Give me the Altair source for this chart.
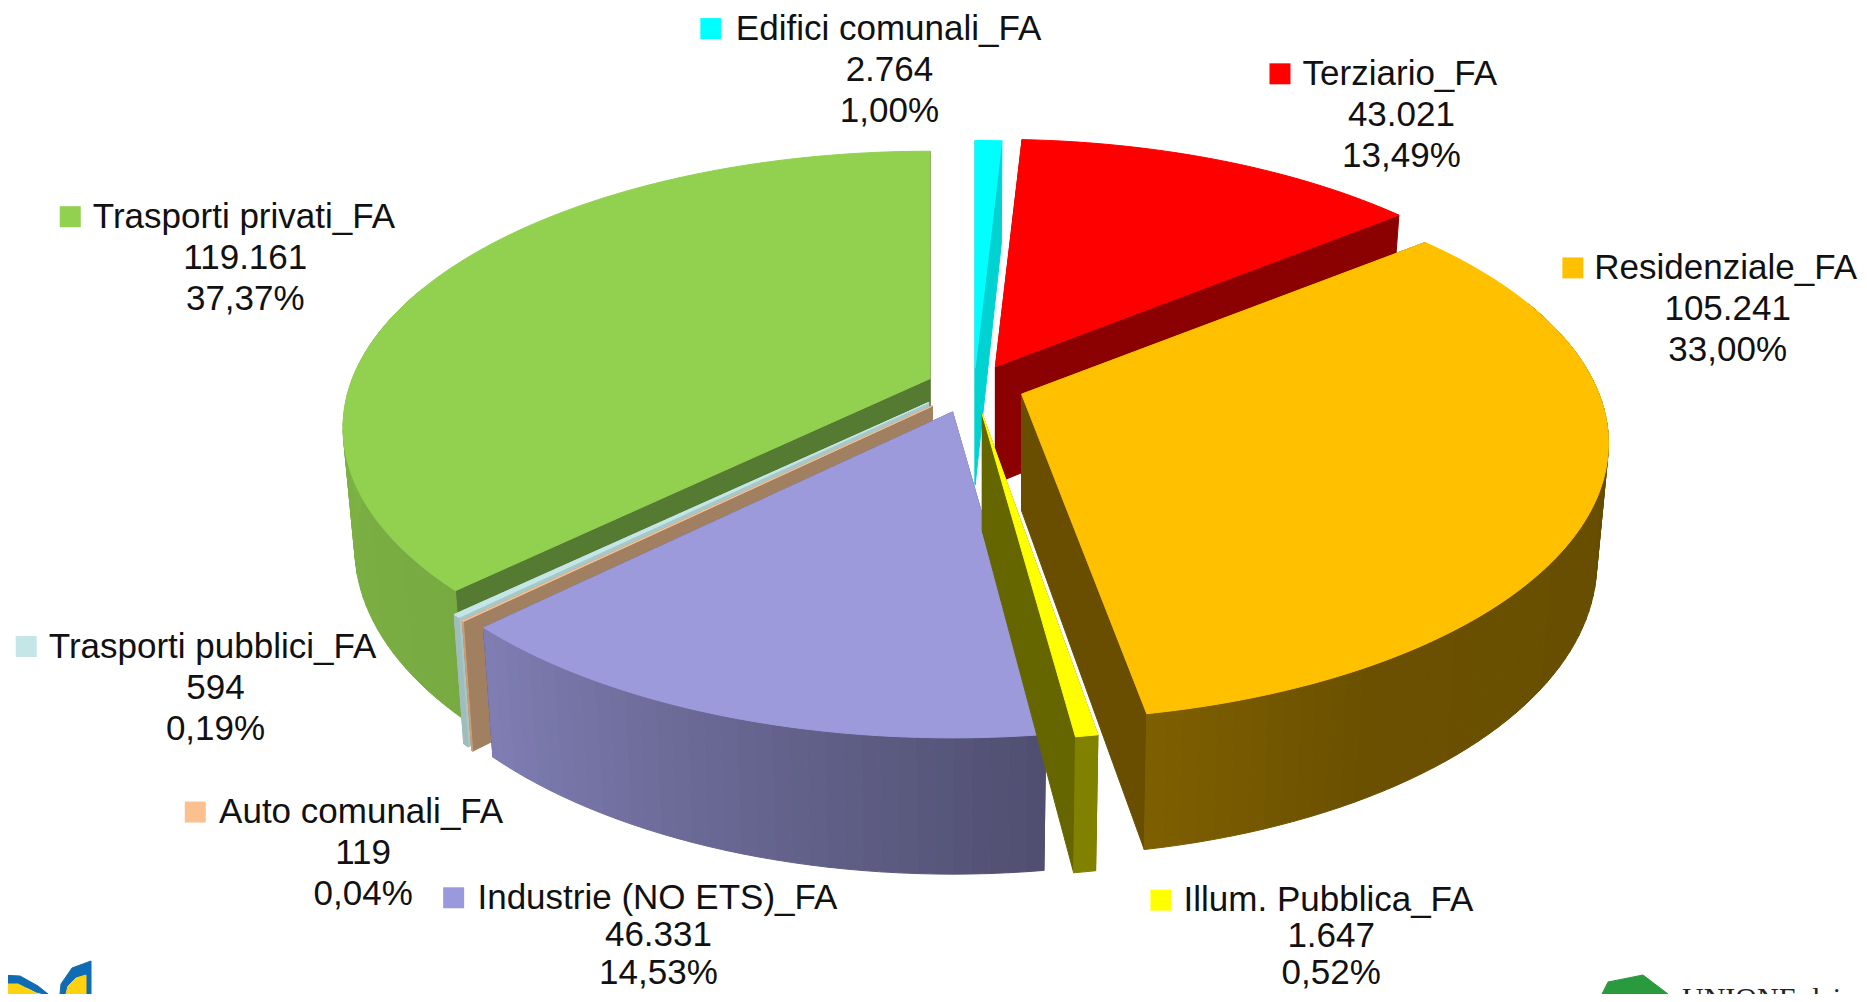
import math
import altair as alt

# ---- data ----
categories = ["Edifici comunali_FA", "Terziario_FA", "Residenziale_FA", "Illum. Pubblica_FA",
              "Industrie (NO ETS)_FA", "Auto comunali_FA", "Trasporti pubblici_FA", "Trasporti privati_FA"]
values = [2764, 43021, 105241, 1647, 46331, 119, 594, 119161]
value_labels = ["2.764", "43.021", "105.241", "1.647", "46.331", "119", "594", "119.161"]
pct_labels = ["1,00%", "13,49%", "33,00%", "0,52%", "14,53%", "0,04%", "0,19%", "37,37%"]
top_colors = ["#00FFFF", "#FF0000", "#FFC000", "#FFFF00", "#9C9ADB", "#FAC090", "#C4E6E6", "#92D050"]
radial_colors = ["#00D2D2", "#8B0000", "#6A4E00", "#666600", "#4B4B70", "#A08060", "#A8C8C8", "#557A32"]
legend_colors = ["#00FFFF", "#FF0000", "#FFC000", "#FFFF00", "#9999DD", "#FAC090", "#C4E6E6", "#92D050"]

# ---- layout, in the picture's 1568-wide coordinates ----
S = 1867 / 1568
apexes = [(819, 309), (836, 308), (858, 331), (825, 348), (800, 346), (783, 341), (780, 338), (781, 318)]
view_turns = [(0, 0), (0, -.7), (-.7, -.8), (0, 0), (0, .6), (.6, .6), (.6, .6), (.6, 0)]
paint_order = [0, 1, 7, 6, 5, 2, 4, 3]
swatches = [(597, 24), (1075, 62), (1321, 225), (975, 756), (381, 754), (164, 682), (22, 543), (59, 182)]
name_lefts = [618, 1094, 1339, 994, 401, 184, 41, 78]
centers = [747, 1177, 1451, 1118, 553, 305, 181, 206]
line_gaps = [34.5, 34.5, 34.5, 30.5, 31.5, 34.5, 34.5, 34.5]
R_X, R_Y, K = 485, 225, 0.178
DROP, BX, BY = 98, 0.98, 1.06
FONT_SIZE = 35


def px(x, y):
    return [x * S - 8, y * S - 8]


def rim(apex, deg, bottom=False):
    t = math.radians(deg)
    w = 1 + K * math.cos(t)
    dx, dy = R_X * math.sin(t) / w, -R_Y * math.cos(t) / w
    if bottom:
        return px(apex[0] + BX * dx, apex[1] + DROP + BY * dy)
    return px(apex[0] + dx, apex[1] + dy)


def hex_color(c, f):
    r, g, b = [int(c[i:i + 2], 16) for i in (1, 3, 5)]
    return "#%02x%02x%02x" % (int(r * f), int(g * f), int(b * f))


def shade(deg):
    stops = [(90, .40), (150, .42), (170, .50), (225, .82), (270, .86), (360, .86)]
    for (a, fa), (b, fb) in zip(stops, stops[1:]):
        if deg <= b:
            return fa + (fb - fa) * (max(deg, a) - a) / (b - a)
    return .86


def feature(points, color):
    ring = [list(p) for p in points] + [list(points[0])]
    return {"type": "Feature", "properties": {"color": color},
            "geometry": {"type": "Polygon", "coordinates": [ring]}}


total = sum(values)
spans, run = [], 0.0
for i, v in enumerate(values):
    spans.append((run * 360 / total + view_turns[i][0], (run + v) * 360 / total + view_turns[i][1]))
    run += v

features = []
for i in paint_order:
    a0, a1 = spans[i]
    ap = apexes[i]
    top_ap, bot_ap = px(*ap), px(ap[0], ap[1] + DROP)
    for a in (a0, a1):
        features.append(feature([top_ap, rim(ap, a), rim(ap, a, True), bot_ap], radial_colors[i]))
    n = max(1, int((a1 - a0) / 1.5))
    steps = [a0 + (a1 - a0) * k / n for k in range(n + 1)]
    for s0, s1 in zip(steps, steps[1:]):
        if math.cos(math.radians((s0 + s1) / 2)) < 0.35:
            features.append(feature([rim(ap, s0), rim(ap, s1), rim(ap, s1, True), rim(ap, s0, True)],
                                    hex_color(top_colors[i], shade((s0 + s1) / 2))))
    features.append(feature([top_ap] + [rim(ap, s) for s in steps], top_colors[i]))

# small parts of the two logos cut by the bottom of the picture (full-size coordinates)
logo_parts = [
    ([(-8, 967), (12, 968), (30, 978), (40, 986), (36, 986), (28, 984), (20, 980), (-8, 976)], "#0F6CB4"),
    ([(-8, 976), (10, 976), (26, 984), (30, 986), (-8, 986)], "#FFD20F"),
    ([(83, 953), (83, 986), (52, 986), (53, 976), (64, 960)], "#0F6CB4"),
    ([(78, 967), (78, 986), (58, 986), (60, 978), (68, 970)], "#FFD20F"),
    ([(1600, 974), (1635, 967), (1660, 986), (1594, 986)], "#2A9A3E"),
]
for pts, col in logo_parts:
    features.append(feature(pts, col))

pie = alt.Chart(alt.Data(values=features)).mark_geoshape(strokeWidth=1).encode(
    color=alt.Color("properties.color:N", scale=None, legend=None),
    stroke=alt.Stroke("properties.color:N", scale=None, legend=None),
).project(type="identity", scale=1, translate=[0, 0])

names, nums, swatch_rows = [], [], []
for i, c in enumerate(categories):
    sx, sy = swatches[i]
    x, y = px(sx, sy)
    swatch_rows.append({"x": x, "y": y, "color": legend_colors[i]})
    lx, ly = px(name_lefts[i], sy)
    names.append({"x": lx, "y": ly, "t": c})
    for k, t in enumerate((value_labels[i], pct_labels[i])):
        cx, cy = px(centers[i], sy + line_gaps[i] * (k + 1))
        nums.append({"x": cx, "y": cy, "t": t})

X = alt.X("x:Q", scale=None, axis=None)
Y = alt.Y("y:Q", scale=None, axis=None)
swatch_layer = alt.Chart(alt.Data(values=swatch_rows)).mark_square(size=441, opacity=1).encode(
    x=X, y=Y, color=alt.Color("color:N", scale=None, legend=None))
name_layer = alt.Chart(alt.Data(values=names)).mark_text(
    align="left", baseline="middle", font="Liberation Sans", fontSize=FONT_SIZE, color="#111111"
).encode(x=X, y=Y, text="t:N")
num_layer = alt.Chart(alt.Data(values=nums)).mark_text(
    align="center", baseline="middle", font="Liberation Sans", fontSize=FONT_SIZE, color="#111111"
).encode(x=X, y=Y, text="t:N")
union_layer = alt.Chart(alt.Data(values=[{"x": 1674, "y": 1000, "t": "UNIONE dei"}])).mark_text(
    align="left", baseline="alphabetic", font="Liberation Serif", fontSize=30, color="#222222"
).encode(x=X, y=Y, text="t:N")

chart = alt.layer(pie, swatch_layer, name_layer, num_layer, union_layer).properties(
    width=1851, height=986, padding=0, autosize="none"
).configure_view(stroke=None)

chart.save("out.html", embed_options={"renderer": "svg", "actions": False})
